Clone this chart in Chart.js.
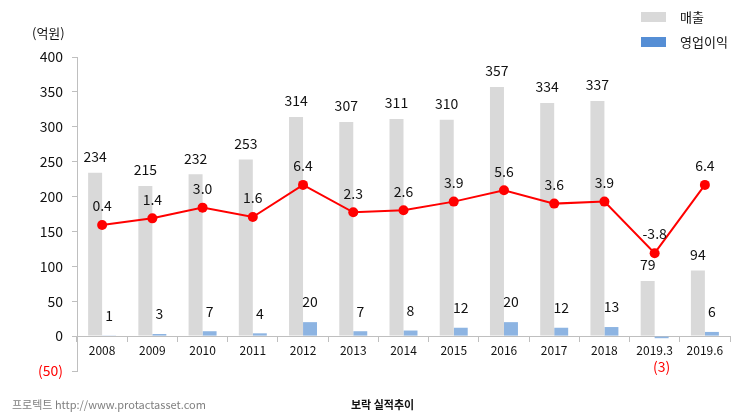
<!DOCTYPE html>
<html>
<head>
<meta charset="utf-8">
<script src="https://cdn.jsdelivr.net/npm/chart.js@4"></script>
<style>
  body { margin: 0; background: #fff; }
</style>
</head>
<body>
<canvas id="chart" width="743" height="419"></canvas>
<script>
const categories = ['2008', '2009', '2010', '2011', '2012', '2013', '2014', '2015', '2016', '2017', '2018', '2019.3', '2019.6'];
const sales = [234, 215, 232, 253, 314, 307, 311, 310, 357, 334, 337, 79, 94];
const opProfit = [1, 3, 7, 4, 20, 7, 8, 12, 20, 12, 13, -3, 6];
const opMargin = [0.4, 1.4, 3.0, 1.6, 6.4, 2.3, 2.6, 3.9, 5.6, 3.6, 3.9, -3.8, 6.4];

const FONT = '"Noto Sans CJK KR", "Noto Sans", sans-serif';

// value labels + legend + captions
const labelPlugin = {
  id: 'labels',
  afterDatasetsDraw(chart) {
    const ctx = chart.ctx;
    ctx.save();
    ctx.textAlign = 'center';
    ctx.textBaseline = 'middle';
    ctx.font = '14px ' + FONT;

    chart.getDatasetMeta(1).data.forEach((el, i) => {
      ctx.fillStyle = '#111';
      ctx.fillText(sales[i], el.x, el.y - 16);
    });
    chart.getDatasetMeta(2).data.forEach((el, i) => {
      const v = opProfit[i];
      if (v < 0) {
        ctx.fillStyle = '#ff0000';
        ctx.fillText('(' + (-v) + ')', el.x, el.y + 28);
      } else {
        ctx.fillStyle = '#111';
        ctx.fillText(v, el.x, el.y - 20);
      }
    });
    chart.getDatasetMeta(0).data.forEach((el, i) => {
      ctx.fillStyle = '#111';
      ctx.fillText(opMargin[i].toFixed(1), el.x, el.y - 19);
    });

    // legend
    ctx.textAlign = 'left';
    ctx.font = '13px ' + FONT;
    ctx.fillStyle = '#d9d9d9';
    ctx.fillRect(641, 12, 25, 10);
    ctx.fillStyle = '#558ed5';
    ctx.fillRect(641, 37, 25, 10);
    ctx.fillStyle = '#111';
    ctx.fillText('매출', 680, 17);
    ctx.fillText('영업이익', 680, 42);

    // unit
    ctx.font = '13px ' + FONT;
    ctx.fillText('(억원)', 32, 33);

    // footer
    ctx.font = '11px ' + FONT;
    ctx.fillStyle = '#7f7f7f';
    ctx.fillText('프로텍트 http://www.protactasset.com', 12, 405);
    ctx.font = 'bold 11px ' + FONT;
    ctx.fillStyle = '#111';
    ctx.fillText('보락 실적추이', 351, 405);
    ctx.restore();
  }
};

new Chart(document.getElementById('chart'), {
  type: 'bar',
  data: {
    labels: categories,
    datasets: [
      {
        type: 'line',
        label: '영업이익률',
        data: opMargin,
        yAxisID: 'y1',
        borderColor: '#ff0000',
        backgroundColor: '#ff0000',
        borderWidth: 2,
        pointRadius: 5,
        pointBackgroundColor: '#ff0000',
        pointBorderWidth: 0,
        tension: 0,
        order: 0
      },
      {
        label: '매출',
        data: sales,
        backgroundColor: '#d9d9d9',
        yAxisID: 'y',
        order: 1
      },
      {
        label: '영업이익',
        data: opProfit,
        backgroundColor: '#8db4e2',
        yAxisID: 'y',
        order: 1
      }
    ]
  },
  options: {
    responsive: false,
    animation: false,
    categoryPercentage: 0.557,
    barPercentage: 1.0,
    layout: { padding: { top: 57, right: 13, bottom: 48, left: 0 } },
    plugins: {
      legend: { display: false },
      tooltip: { enabled: false }
    },
    scales: {
      x: {
        position: { y: 0 },
        offset: true,
        grid: { display: true, drawOnChartArea: false, drawTicks: true, offset: true, tickLength: 5, color: '#bfbfbf' },
        border: { display: true, color: '#bfbfbf' },
        ticks: { color: '#111', font: { family: FONT, size: 12 }, padding: 2, maxRotation: 0, autoSkip: false }
      },
      y: {
        min: -50,
        max: 400,
        afterFit(scale) { scale.width = 77; },
        grid: { display: true, drawOnChartArea: false, drawTicks: true, tickLength: 5, color: '#bfbfbf' },
        border: { display: true, color: '#bfbfbf' },
        ticks: {
          stepSize: 50,
          padding: 9,
          font: { family: FONT, size: 14 },
          color: (c) => c.tick.value < 0 ? '#ff0000' : '#111',
          callback: (v) => v < 0 ? '(' + (-v) + ')' : v
        }
      },
      y1: {
        display: false,
        min: -21.4,
        max: 25.5
      }
    }
  },
  plugins: [labelPlugin]
});
</script>
</body>
</html>
